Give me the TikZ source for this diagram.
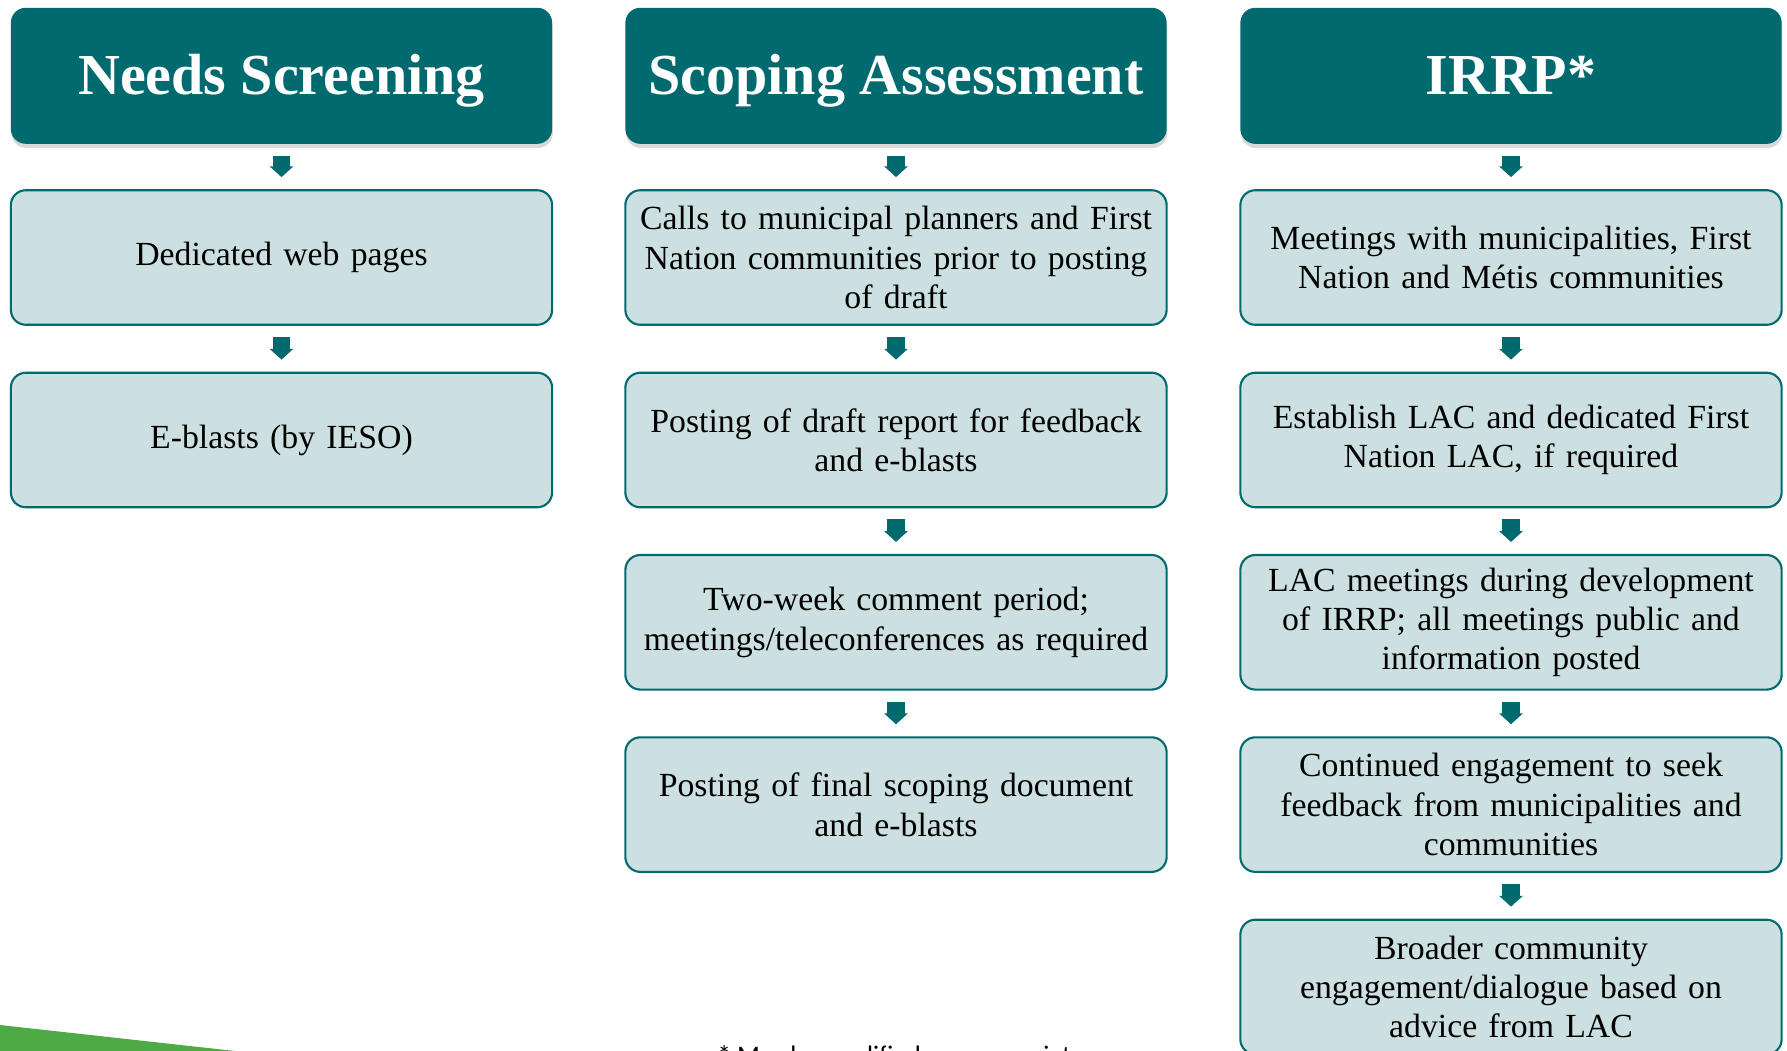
\documentclass[tikz,border=0pt]{standalone}
\usepackage{fontspec}
\setmainfont{Liberation Serif}
\newfontfamily\notefont{Carlito}
\usetikzlibrary{arrows.meta,shadows}

\definecolor{tealdark}{RGB}{0,106,110}
\definecolor{boxfill}{RGB}{205,224,225}
\definecolor{greenbar}{RGB}{77,170,68}

\tikzset{
  header/.style={rounded corners=0.15cm, fill=tealdark, text=white,
    minimum width=5.41cm, minimum height=1.36cm, inner sep=0pt,
    text height=10.9pt, text depth=0pt,
    font=\fontsize{16.5}{20}\selectfont\bfseries,
    drop shadow={shadow xshift=0.2pt, shadow yshift=-1.2pt, opacity=0.3}},
  stepbox/.style={rounded corners=0.15cm, draw=tealdark, line width=0.6pt,
    fill=boxfill, minimum width=5.41cm, minimum height=1.345cm,
    text width=5.35cm, align=center, inner sep=0pt,
    font=\fontsize{9.6}{11.2}\selectfont},
  flow/.style={draw=tealdark, line width=5.1pt, shorten <=0.11cm, shorten >=0.12cm,
    -{Triangle[width=6.6pt, length=3.1pt]}},
  note/.style={font=\notefont\fontsize{7.6}{9}\selectfont, inner sep=0pt}
}

\begin{document}
\begin{tikzpicture}[x=0.01cm, y=-0.01cm]
    \useasboundingbox (0,0) rectangle (1787,1051);

    % Green corner
    \fill[greenbar] (0,1025) -- (235,1051) -- (0,1051) -- cycle;

    % Headers
    \node[header] (ns) at (281.5,75.8) {Needs Screening};
    \node[header] (sa) at (896,75.8) {Scoping Assessment};
    \node[header] (ir) at (1511,75.8) {IRRP*};

    % Needs Screening column
    \node[stepbox] (ns1) at (281.5,257.5) {Dedicated web pages};
    \node[stepbox] (ns2) at (281.5,440) {E-blasts (by IESO)};

    % Scoping Assessment column
    \node[stepbox] (sa1) at (896,257.5) {Calls to municipal planners and First\\Nation communities prior to posting\\of draft};
    \node[stepbox] (sa2) at (896,440) {Posting of draft report for feedback\\and e-blasts};
    \node[stepbox] (sa3) at (896,622.3) {Two-week comment period;\\meetings/teleconferences as required};
    \node[stepbox] (sa4) at (896,804.6) {Posting of final scoping document\\and e-blasts};

    % IRRP column
    \node[stepbox] (ir1) at (1511,257.5) {Meetings with municipalities, First\\Nation and Métis communities};
    \node[stepbox] (ir2) at (1511,440) {Establish LAC and dedicated First\\Nation LAC, if required};
    \node[stepbox] (ir3) at (1511,622.3) {LAC meetings during development\\of IRRP; all meetings public and\\information posted};
    \node[stepbox] (ir4) at (1511,804.6) {Continued engagement to seek\\feedback from municipalities and\\communities};
    \node[stepbox] (ir5) at (1511,987) {Broader community\\engagement/dialogue based on\\advice from LAC};

    % Arrows
    \draw[flow] (ns) -- (ns1);
    \draw[flow] (ns1) -- (ns2);
    \draw[flow] (sa) -- (sa1);
    \draw[flow] (sa1) -- (sa2);
    \draw[flow] (sa2) -- (sa3);
    \draw[flow] (sa3) -- (sa4);
    \draw[flow] (ir) -- (ir1);
    \draw[flow] (ir1) -- (ir2);
    \draw[flow] (ir2) -- (ir3);
    \draw[flow] (ir3) -- (ir4);
    \draw[flow] (ir4) -- (ir5);

    % Footnote (cut off at the bottom)
    \node[note, anchor=base west] (fn) at (717,1064) {* May be modified as appropriate};
\end{tikzpicture}
\end{document}
